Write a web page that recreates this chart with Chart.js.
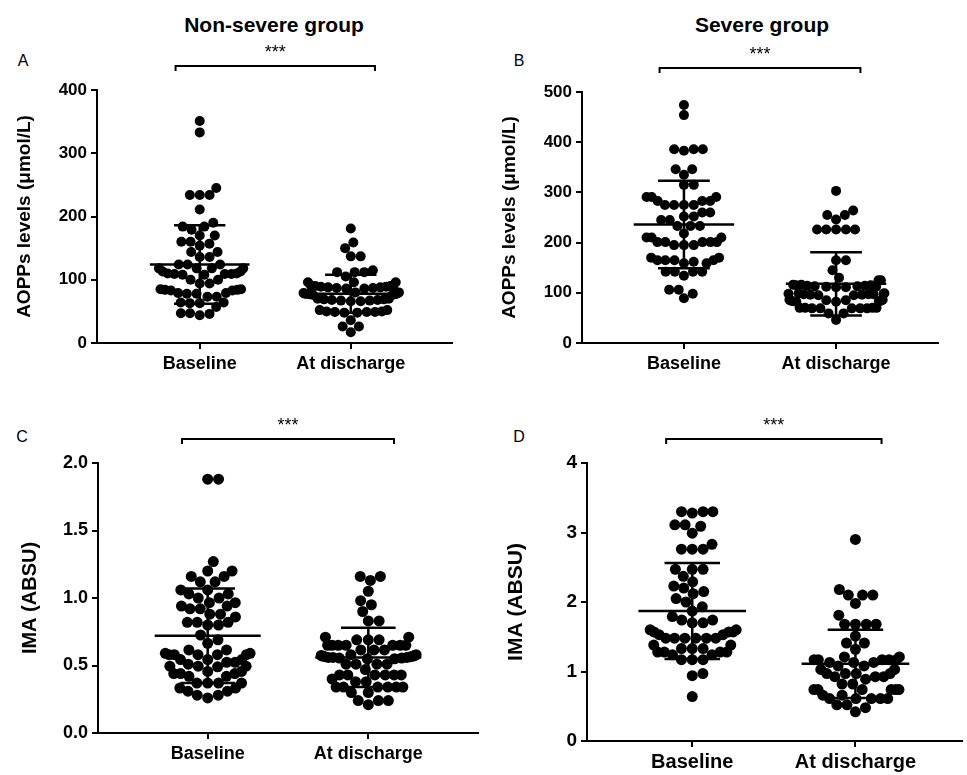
<!DOCTYPE html>
<html>
<head>
<meta charset="utf-8">
<script src="https://cdn.jsdelivr.net/npm/chart.js@4.4.1/dist/chart.umd.min.js"></script>
<style>
  body { margin: 0; background: #fff; }
  #wrap { position: relative; width: 967px; height: 775px; font-family: "Liberation Sans", Arial, sans-serif; color: #000; }
  canvas { position: absolute; }
  .lbl { position: absolute; transform: translate(-50%, -50%); white-space: nowrap; }
  .grp { font-weight: bold; font-size: 21px; }
  .let { font-size: 16px; }
</style>
</head>
<body>
<div id="wrap">
  <div class="lbl grp" style="left:274px; top:25px;">Non-severe group</div>
  <div class="lbl grp" style="left:762px; top:25px;">Severe group</div>
  <div class="lbl let" style="left:23px; top:61px;">A</div>
  <div class="lbl let" style="left:519px; top:61px;">B</div>
  <div class="lbl let" style="left:22px; top:437px;">C</div>
  <div class="lbl let" style="left:519px; top:437px;">D</div>
  <canvas id="chartA" width="480" height="345" style="left:0; top:40px;"></canvas>
  <canvas id="chartB" width="483" height="345" style="left:484px; top:40px;"></canvas>
  <canvas id="chartC" width="484" height="360" style="left:0; top:415px;"></canvas>
  <canvas id="chartD" width="483" height="360" style="left:484px; top:415px;"></canvas>
</div>
<script>
const categories = ['Baseline', 'At discharge'];

// AOPPs (umol/L), non-severe group
const aoppsNonSevereBaseline = [351, 333, 245, 234, 234, 234, 211, 190, 184, 184, 179, 170, 170, 160, 160, 157, 154,
  144, 144, 136, 136, 124, 124, 124, 118, 118, 118, 118, 113, 113, 110, 109, 108, 109, 110, 108, 109,
  100, 100, 94, 94, 85, 84, 83, 84, 85, 83, 79, 79, 78, 78, 73, 73, 64, 64, 63, 63, 57, 47, 47, 46, 44];
const aoppsNonSevereDischarge = [181, 159, 150, 137, 137, 115, 112, 112, 112, 105, 96, 96, 96, 91, 91,
  90, 89, 88, 87, 86, 86, 87, 88, 89, 90,
  80, 79, 78, 77, 76, 76, 77, 78, 79, 80, 78,
  70, 69, 68, 67, 66, 66, 67, 68, 69, 70,
  52, 52, 50, 49, 48, 49, 50, 49, 48, 36, 26, 26, 17];

// AOPPs (umol/L), severe group
const aoppsSevereBaseline = [474, 454, 386, 386, 386, 383, 346, 346, 335, 315, 315, 291, 291, 291, 283, 283, 283,
  275, 275, 275, 275, 260, 260, 252, 252, 245, 245, 233, 233, 233, 218, 210, 210, 210,
  201, 201, 201, 201, 201, 195, 195, 195, 170, 170, 165, 165, 165, 165, 162, 159, 159,
  142, 142, 142, 142, 134, 106, 106, 98, 89];
const aoppsSevereDischarge = [303, 264, 255, 255, 246, 226, 226, 226, 226, 226, 165, 165, 145, 130, 125, 125,
  116, 115, 114, 113, 112, 111, 111, 112, 113, 114, 115, 116,
  99, 98, 97, 96, 95, 95, 96, 97, 98, 99, 97,
  86, 85, 84, 83, 82, 82, 83, 84, 85, 86,
  70, 70, 69, 69, 69, 69, 69, 70, 70, 59, 59, 46];

// IMA (ABSU), non-severe group
const imaNonSevereBaseline = [1.88, 1.88, 1.27, 1.20, 1.20, 1.16, 1.16, 1.12, 1.12, 1.06, 1.06, 1.03, 1.03,
  1.00, 1.00, 0.965, 0.965, 0.94, 0.94, 0.92, 0.92, 0.88, 0.88, 0.86, 0.82, 0.82, 0.82, 0.80, 0.80,
  0.726, 0.69, 0.664, 0.615, 0.615, 0.59, 0.59, 0.58, 0.58, 0.58, 0.58, 0.58, 0.544, 0.544, 0.544,
  0.524, 0.524, 0.51, 0.495, 0.495, 0.495, 0.49, 0.456, 0.456, 0.44, 0.44, 0.44, 0.42, 0.42,
  0.37, 0.37, 0.37, 0.37, 0.333, 0.333, 0.31, 0.31, 0.28, 0.28, 0.26];
const imaNonSevereDischarge = [1.16, 1.16, 1.13, 1.05, 0.98, 0.95, 0.90, 0.83, 0.83, 0.71, 0.71, 0.69, 0.69, 0.69,
  0.65, 0.65, 0.65, 0.65, 0.65, 0.65, 0.65, 0.615, 0.615, 0.615,
  0.58, 0.575, 0.57, 0.565, 0.56, 0.555, 0.55, 0.55, 0.555, 0.56, 0.565, 0.57, 0.575, 0.58, 0.56,
  0.51, 0.51, 0.51, 0.51, 0.47, 0.43, 0.43, 0.43, 0.43, 0.43, 0.43, 0.40, 0.38, 0.38,
  0.34, 0.34, 0.34, 0.34, 0.34, 0.34, 0.30, 0.30, 0.24, 0.24, 0.24, 0.21];

// IMA (ABSU), severe group
const imaSevereBaseline = [3.3, 3.3, 3.3, 3.28, 3.11, 3.11, 3.09, 2.99, 2.83, 2.76, 2.76, 2.76,
  2.47, 2.47, 2.47, 2.37, 2.29, 2.23, 2.20, 2.15, 2.12, 2.05, 2.0, 1.93, 1.87, 1.79, 1.74, 1.74,
  1.70, 1.70, 1.60, 1.60, 1.57, 1.57, 1.57, 1.53, 1.53, 1.48, 1.48, 1.48, 1.48, 1.48, 1.48,
  1.38, 1.38, 1.33, 1.33, 1.33, 1.28, 1.28, 1.28, 1.28, 1.24, 1.24, 1.17, 1.17, 1.17, 0.97, 0.94, 0.64];
const imaSevereDischarge = [2.90, 2.18, 2.10, 2.10, 2.10, 1.98, 1.81, 1.68, 1.68, 1.68, 1.68, 1.51, 1.41, 1.41,
  1.32, 1.21, 1.21, 1.17, 1.17, 1.17, 1.17, 1.17, 1.13, 1.13, 1.13, 1.08, 1.08, 1.03, 1.03,
  0.97, 0.97, 0.97, 0.97, 0.925, 0.925, 0.925, 0.89, 0.82, 0.82, 0.74, 0.74, 0.74, 0.74, 0.74, 0.74,
  0.66, 0.66, 0.61, 0.61, 0.61, 0.61, 0.61, 0.52, 0.52, 0.48, 0.42];

// mean and SD (error bars)
const meansA = [124, 78],   sdsA = [62, 30];
const meansB = [236, 118],  sdsB = [87, 63];
const meansC = [0.72, 0.56], sdsC = [0.35, 0.22];
const meansD = [1.87, 1.11], sdsD = [0.69, 0.49];

// y ticks
const yTicksA = [0, 100, 200, 300, 400];
const yTicksB = [0, 100, 200, 300, 400, 500];
const yTicksC = [0, 0.5, 1.0, 1.5, 2.0];
const yTickLabelsC = ['0.0', '0.5', '1.0', '1.5', '2.0'];
const yTicksD = [0, 1, 2, 3, 4];

const FONT = '"Liberation Sans", Arial, sans-serif';

// error bars, mean lines, significance bracket
const overlay = {
  id: 'overlay',
  afterDatasetsDraw(chart, args, opts) {
    const { ctx, chartArea } = chart;
    const x = chart.scales.x, y = chart.scales.y;
    ctx.save();
    ctx.strokeStyle = '#000';
    ctx.lineWidth = 2.5;
    const seg = (x1, y1, x2, y2) => { ctx.beginPath(); ctx.moveTo(x1, y1); ctx.lineTo(x2, y2); ctx.stroke(); };
    opts.means.forEach((m, i) => {
      const cx = x.getPixelForValue(i + 1);
      const half = x.getPixelForValue(i + 1.33) - cx;
      const cap = x.getPixelForValue(i + 1.17) - cx;
      const ym = y.getPixelForValue(m);
      const yt = y.getPixelForValue(m + opts.sds[i]);
      const yb = y.getPixelForValue(m - opts.sds[i]);
      seg(cx - half, ym, cx + half, ym);
      seg(cx, yt, cx, yb);
      seg(cx - cap, yt, cx + cap, yt);
      seg(cx - cap, yb, cx + cap, yb);
    });
    const bx1 = x.getPixelForValue(1 - 0.16), bx2 = x.getPixelForValue(2 + 0.16);
    const by = chartArea.top - 24;
    ctx.lineWidth = 2;
    ctx.beginPath();
    ctx.moveTo(bx1, by + 5); ctx.lineTo(bx1, by); ctx.lineTo(bx2, by); ctx.lineTo(bx2, by + 5);
    ctx.stroke();
    ctx.fillStyle = '#000';
    ctx.font = '18px ' + FONT;
    ctx.textAlign = 'center';
    ctx.textBaseline = 'middle';
    ctx.fillText('***', (x.getPixelForValue(1) + x.getPixelForValue(2)) / 2, by - 13);
    ctx.restore();
  }
};

// beeswarm: x offsets in pixels, squashed so the swarm stays about as wide as the original
function swarm(vals, yScale, diam, maxHalf) {
  const order = vals.map((v, i) => i).sort((a, b) => vals[a] - vals[b]);
  const placed = [];
  const out = new Array(vals.length).fill(0);
  for (const i of order) {
    const py = yScale.getPixelForValue(vals[i]);
    const cands = [0];
    placed.forEach(p => {
      const dy = Math.abs(p.y - py);
      if (dy < diam) {
        const h = Math.sqrt(diam * diam - dy * dy);
        cands.push(p.x + h, p.x - h);
      }
    });
    cands.sort((a, b) => Math.abs(a) - Math.abs(b));
    let best = 0;
    for (const c of cands) {
      if (placed.every(p => (p.x - c) ** 2 + (p.y - py) ** 2 >= diam * diam - 0.01)) { best = c; break; }
    }
    placed.push({ x: best, y: py });
    out[i] = best;
  }
  return out.map(o => maxHalf * Math.tanh(o / maxHalf));
}

function makePanel(id, p) {
  const axisCommon = {
    grid: { drawOnChartArea: false, color: '#000', lineWidth: 2, tickLength: 6 },
    border: { color: '#000', width: 2 }
  };
  const chart = new Chart(document.getElementById(id), {
    type: 'scatter',
    data: {
      datasets: [p.base, p.dis].map(vals => ({
        data: vals.map(v => ({ x: 1, y: v })),
        backgroundColor: '#000',
        borderWidth: 0,
        pointRadius: p.r,
        pointHoverRadius: p.r
      }))
    },
    options: {
      responsive: false,
      animation: false,
      layout: { padding: { left: 0, top: p.top, right: p.right, bottom: 0 } },
      plugins: {
        legend: { display: false },
        tooltip: { enabled: false },
        overlay: { means: p.means, sds: p.sds }
      },
      scales: {
        x: {
          type: 'linear', min: p.xmin, max: p.xmax,
          ...axisCommon,
          afterBuildTicks: s => { s.ticks = [{ value: 1 }, { value: 2 }]; },
          afterFit: s => { s.height = p.xh; },
          ticks: {
            color: '#000', padding: p.xpad, maxRotation: 0, autoSkip: false,
            font: { family: FONT, size: p.xfont, weight: 'bold' },
            callback: v => categories[v - 1]
          }
        },
        y: {
          min: 0, max: p.yticks[p.yticks.length - 1],
          ...axisCommon,
          afterBuildTicks: s => { s.ticks = p.yticks.map(v => ({ value: v })); },
          afterFit: s => { s.width = p.yw; },
          ticks: {
            color: '#000', padding: 4,
            font: { family: FONT, size: p.tfont, weight: 'bold' },
            callback: (v, i) => p.ylabels ? p.ylabels[i] : String(v)
          },
          title: {
            display: true, text: p.title, color: '#000',
            padding: { top: p.tpad, bottom: 0 },
            font: { family: FONT, size: p.titleFont, weight: 'bold' }
          }
        }
      }
    },
    plugins: [overlay]
  });
  const ppu = chart.scales.x.getPixelForValue(2) - chart.scales.x.getPixelForValue(1);
  [p.base, p.dis].forEach((vals, k) => {
    const offs = swarm(vals, chart.scales.y, p.r * 2, 50);
    chart.data.datasets[k].data = vals.map((v, i) => ({ x: k + 1 + offs[i] / ppu, y: v }));
  });
  chart.update('none');
}

makePanel('chartA', {
  base: aoppsNonSevereBaseline, dis: aoppsNonSevereDischarge, means: meansA, sds: sdsA,
  yticks: yTicksA, title: 'AOPPs levels (\u03bcmol/L)',
  top: 50, right: 28, yw: 97, xh: 42, xmin: 0.32, xmax: 2.67,
  r: 5, tfont: 17, xfont: 18, xpad: 4, titleFont: 19, tpad: 13
});
makePanel('chartB', {
  base: aoppsSevereBaseline, dis: aoppsSevereDischarge, means: meansB, sds: sdsB,
  yticks: yTicksB, title: 'AOPPs levels (\u03bcmol/L)',
  top: 52, right: 29, yw: 98, xh: 42, xmin: 0.33, xmax: 2.67,
  r: 5, tfont: 17, xfont: 18, xpad: 4, titleFont: 19, tpad: 14
});
makePanel('chartC', {
  base: imaNonSevereBaseline, dis: imaNonSevereDischarge, means: meansC, sds: sdsC,
  yticks: yTicksC, ylabels: yTickLabelsC, title: 'IMA (ABSU)',
  top: 48, right: 6, yw: 98, xh: 42, xmin: 0.317, xmax: 2.683,
  r: 5.5, tfont: 18, xfont: 18, xpad: 4, titleFont: 20, tpad: 18
});
makePanel('chartD', {
  base: imaSevereBaseline, dis: imaSevereDischarge, means: meansD, sds: sdsD,
  yticks: yTicksD, title: 'IMA (ABSU)',
  top: 48, right: 5, yw: 103, xh: 34, xmin: 0.355, xmax: 2.65,
  r: 5.5, tfont: 19, xfont: 20, xpad: 3, titleFont: 21, tpad: 20
});
</script>
</body>
</html>
